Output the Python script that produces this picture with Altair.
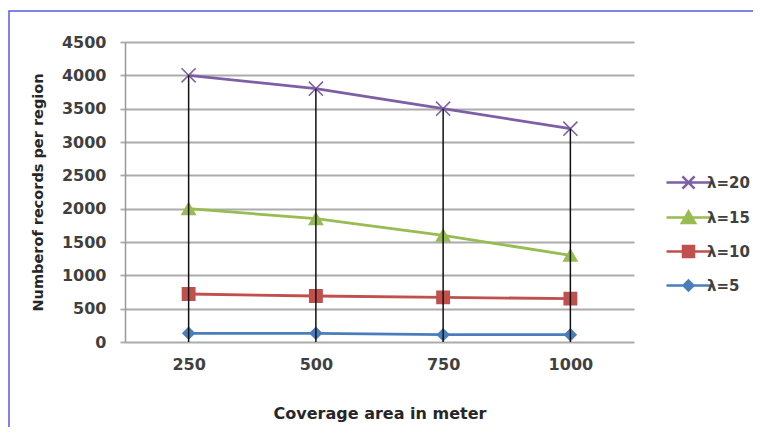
import altair as alt
import pandas as pd

coverage = [250, 500, 750, 1000]
lam5 = [130, 130, 110, 110]
lam10 = [720, 690, 670, 650]
lam15 = [2000, 1850, 1600, 1300]
lam20 = [4000, 3800, 3500, 3200]
series_names = ["λ=20", "λ=15", "λ=10", "λ=5"]
y_ticks = list(range(0, 4501, 500))

colors = ["#7d5fa5", "#98bb52", "#c0504d", "#4a7ebb"]
marker_shapes = ["M-1,-1L1,1M-1,1L1,-1", "triangle-up", "square", "diamond"]
marker_sizes = [200, 130, 150, 90]
legend_paths = [
    "M-2,0H2M-0.55,-0.55L0.55,0.55M-0.55,0.55L0.55,-0.55",
    "M-2,0H2M0,-0.55L0.6,0.5H-0.6Z",
    "M-2,0H2M-0.5,-0.5H0.5V0.5H-0.5Z",
    "M-2,0H2M0,-0.45L0.45,0L0,0.45L-0.45,0Z",
]

rows = []
for name, vals in zip(series_names, [lam20, lam15, lam10, lam5]):
    for c, v in zip(coverage, vals):
        rows.append({"coverage": c, "records": v, "series": name})
df = pd.DataFrame(rows)
drop_df = pd.DataFrame({"coverage": coverage, "top": lam20})

FONT = "DejaVu Sans"

x_enc = alt.X(
    "coverage:O",
    scale=alt.Scale(type="point", padding=0.5),
    axis=alt.Axis(
        title="Coverage area in meter", labelAngle=0, ticks=False, domain=False,
        grid=False, labelFont=FONT, labelFontSize=16, labelFontWeight="bold",
        labelColor="#404040", labelPadding=14, titleFont=FONT, titleFontSize=16,
        titleFontWeight="bold", titleColor="#262626", titlePadding=33,
    ),
)
y_scale = alt.Scale(domain=[0, 4500], nice=False)
y_axis = alt.Axis(
    title="Numberof records per region", values=y_ticks, format="d",
    labelOverlap=False, grid=True,
    gridColor="#ababab", gridWidth=1.8, domainColor="#999999", domainWidth=1.5,
    tickColor="#ababab", tickSize=5, tickWidth=1.8, labelFont=FONT,
    labelFontSize=16, labelFontWeight="bold", labelColor="#404040",
    labelPadding=14, titleFont=FONT, titleFontSize=14.5, titleFontWeight="bold",
    titleColor="#262626", titlePadding=16,
)

base = alt.Chart(df)

frame = alt.Chart(pd.DataFrame({"k": [0]})).mark_rect(
    fillOpacity=0, stroke="#5a5ae6", strokeWidth=1.5
).encode(
    x=alt.value(-116), x2=alt.value(1000), y=alt.value(-31), y2=alt.value(1000)
)

lines = base.mark_line(strokeWidth=2.8).encode(
    x=x_enc,
    y=alt.Y("records:Q", scale=y_scale, axis=y_axis),
    color=alt.Color("series:N", scale=alt.Scale(domain=series_names, range=colors), legend=None),
)

points = base.mark_point(filled=True, opacity=1, strokeWidth=1.5).encode(
    x=x_enc,
    y=alt.Y("records:Q", scale=y_scale, axis=y_axis),
    fill=alt.Fill("series:N", scale=alt.Scale(domain=series_names, range=colors), legend=None),
    stroke=alt.Stroke("series:N", scale=alt.Scale(domain=series_names, range=colors), legend=None),
    shape=alt.Shape("series:N", scale=alt.Scale(domain=series_names, range=marker_shapes), legend=None),
    size=alt.Size("series:N", scale=alt.Scale(domain=series_names, range=marker_sizes), legend=None),
)

drops = alt.Chart(drop_df).mark_rule(color="#111111", strokeWidth=1.5).encode(
    x=x_enc,
    y=alt.Y("top:Q", scale=y_scale, axis=y_axis),
    y2=alt.datum(0),
)

leg = alt.Legend(
    title=None, orient="none", legendX=551, legendY=128, padding=0,
    rowPadding=11, symbolSize=484, symbolStrokeWidth=2.5, symbolOpacity=1,
    labelFont=FONT, labelFontSize=15, labelFontWeight="bold",
    labelColor="#404040", labelOffset=6,
)
legend_layer = base.transform_filter("false").mark_point(
    filled=True, opacity=1, strokeWidth=2.5
).encode(
    fill=alt.Fill("series:N", scale=alt.Scale(domain=series_names, range=colors), legend=leg),
    stroke=alt.Stroke("series:N", scale=alt.Scale(domain=series_names, range=colors), legend=leg),
    shape=alt.Shape("series:N", scale=alt.Scale(domain=series_names, range=legend_paths), legend=leg),
)

chart = alt.layer(frame, lines, points, drops, legend_layer).resolve_scale(
    fill="independent", stroke="independent", shape="independent"
).properties(
    width=509, height=300,
    autosize=alt.AutoSizeParams(type="none"),
    padding={"left": 117, "top": 34, "right": 119, "bottom": 85},
    background="white",
).configure_view(stroke=None)

chart.save("out.html", embed_options={"renderer": "svg", "actions": False})
